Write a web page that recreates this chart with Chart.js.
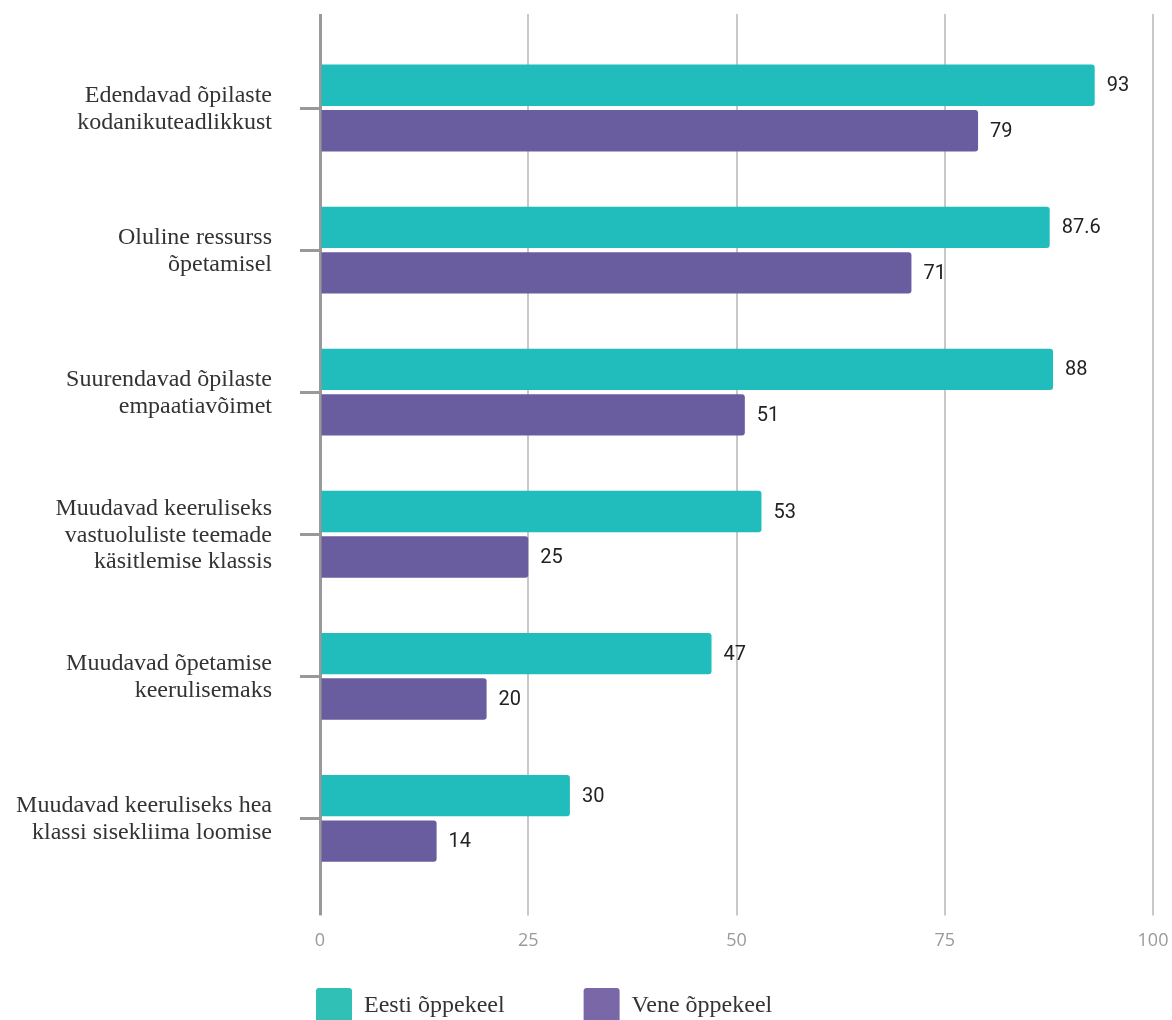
<!DOCTYPE html>
<html>
<head>
<meta charset="utf-8">
<script src="https://cdn.jsdelivr.net/npm/chart.js@4/dist/chart.umd.min.js"></script>
<style>
  html, body { margin: 0; padding: 0; background: #fff; overflow: hidden; }
  #wrap { position: relative; width: 1172px; height: 1092px; }
</style>
</head>
<body>
<div id="wrap"><canvas id="myChart"></canvas></div>
<script>
const categories = [
  ['Edendavad õpilaste', 'kodanikuteadlikkust'],
  ['Oluline ressurss', 'õpetamisel'],
  ['Suurendavad õpilaste', 'empaatiavõimet'],
  ['Muudavad keeruliseks', 'vastuoluliste teemade', 'käsitlemise klassis'],
  ['Muudavad õpetamise', 'keerulisemaks'],
  ['Muudavad keeruliseks hea', 'klassi sisekliima loomise']
];
const seriesNames = ['Eesti õppekeel', 'Vene õppekeel'];
const eestiValues = [93, 87.6, 88, 53, 47, 30];
const veneValues = [79, 71, 51, 25, 20, 14];
const xTicks = [0, 25, 50, 75, 100];

const barColors = ['#20bdbc', '#695da0'];
const legendColors = ['#31c0b6', '#7a67a8'];
const serif = '"Liberation Serif", "DejaVu Serif", serif';

// value text to the right of each bar
const valueLabels = {
  id: 'valueLabels',
  afterDatasetsDraw(chart) {
    const ctx = chart.ctx;
    ctx.save();
    ctx.font = '20px Roboto, sans-serif';
    ctx.fillStyle = '#222';
    ctx.textAlign = 'left';
    ctx.textBaseline = 'middle';
    chart.data.datasets.forEach(function (ds, i) {
      chart.getDatasetMeta(i).data.forEach(function (bar, j) {
        ctx.fillText(String(ds.data[j]), bar.x + 12, bar.y + 1);
      });
    });
    ctx.restore();
  }
};

// legend row: first box at x=316, boxes top at y=988
const legendPlace = {
  id: 'legendPlace',
  afterLayout(chart) {
    const lg = chart.legend;
    if (!lg || !lg.lineWidths) return;
    const p = lg.options.labels.padding;
    lg.right = 2 * 316 - lg.left - p + lg.lineWidths[0];
    lg.top = 988 - p;
    lg.bottom = lg.top + lg.height;
  }
};

function setTicks(scale) {
  scale.ticks = xTicks.map(v => ({ value: v }));
}
function noSidePadding(scale) {
  scale.paddingLeft = 0;
  scale.paddingRight = 0;
}

function gridColor(ctx) {
  return ctx.tick && ctx.tick.value === 0 ? '#999' : '#c8c8c8';
}
function gridWidth(ctx) {
  return ctx.tick && ctx.tick.value === 0 ? 3 : 2;
}

const ctx = document.getElementById('myChart').getContext('2d');
new Chart(ctx, {
  type: 'bar',
  data: {
    labels: categories,
    datasets: [
      {
        label: seriesNames[0],
        data: eestiValues,
        backgroundColor: barColors[0],
        borderRadius: 3,
        categoryPercentage: 0.64,
        barPercentage: 0.91
      },
      {
        label: seriesNames[1],
        data: veneValues,
        backgroundColor: barColors[1],
        borderRadius: 3,
        categoryPercentage: 0.64,
        barPercentage: 0.91
      }
    ]
  },
  options: {
    indexAxis: 'y',
    responsive: true,
    maintainAspectRatio: false,
    animation: false,
    layout: { padding: { top: 14, right: 19, left: 0, bottom: 0 } },
    scales: {
      x: {
        min: 0,
        max: 100,
        afterBuildTicks: setTicks,
        afterFit: noSidePadding,
        border: { display: false },
        grid: {
          color: gridColor,
          lineWidth: gridWidth,
          drawTicks: true,
          tickLength: 26
        },
        ticks: {
          padding: 15,
          color: '#9a9a9a',
          font: { family: '"Open Sans", sans-serif', size: 18 }
        }
      },
      x2: {
        axis: 'x',
        position: 'top',
        min: 0,
        max: 100,
        afterBuildTicks: setTicks,
        afterFit: noSidePadding,
        border: { display: false },
        grid: {
          drawOnChartArea: false,
          color: gridColor,
          lineWidth: gridWidth,
          tickLength: 23
        },
        ticks: { display: false }
      },
      y: {
        afterFit(scale) {
          scale.width = 320;
          scale.paddingTop = 0;
          scale.paddingBottom = 0;
        },
        border: { color: '#999', width: 3 },
        grid: {
          offset: false,
          drawOnChartArea: false,
          color: '#999',
          lineWidth: 3,
          tickLength: 20
        },
        ticks: {
          padding: 28,
          labelOffset: 1,
          color: '#333',
          font: { family: serif, size: 24, lineHeight: 1.12 }
        }
      }
    },
    plugins: {
      tooltip: { enabled: false },
      legend: {
        position: 'bottom',
        labels: {
          boxWidth: 36,
          boxHeight: 36,
          padding: 79,
          useBorderRadius: true,
          borderRadius: 3,
          color: '#333',
          font: { family: serif, size: 24 },
          generateLabels(chart) {
            const items = Chart.defaults.plugins.legend.labels.generateLabels(chart);
            items.forEach(function (it, i) {
              it.fillStyle = legendColors[i];
              it.strokeStyle = legendColors[i];
              it.lineWidth = 0;
            });
            return items;
          }
        }
      }
    }
  },
  plugins: [valueLabels, legendPlace]
});
</script>
</body>
</html>
